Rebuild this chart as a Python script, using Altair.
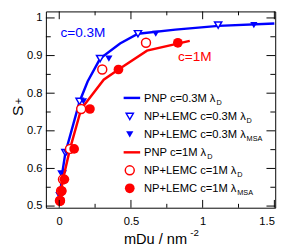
import altair as alt
import pandas as pd

# ---------------- data ----------------
blue_y = [0.527, 0.585, 0.642, 0.778, 0.892, 0.958, 0.981]
blue_x_D = [0.006, 0.020, 0.043, 0.142, 0.285, 0.549, 1.108]
blue_x_MSA = [0.007, 0.024, 0.052, 0.169, 0.346, 0.673, 1.357]
blue_pnp_x = [0.006, 0.020, 0.043, 0.142, 0.198, 0.285, 0.424, 0.549, 0.81, 1.11, 1.5]
blue_pnp_y = [0.527, 0.585, 0.642, 0.778, 0.831, 0.892, 0.932, 0.958, 0.969, 0.979, 0.985]

red_y = [0.514, 0.540, 0.571, 0.652, 0.758, 0.863, 0.934]
red_x_D = [0.005, 0.013, 0.026, 0.075, 0.153, 0.300, 0.605]
red_x_MSA = [0.007, 0.018, 0.036, 0.104, 0.214, 0.413, 0.827]
red_pnp_x = [0.005, 0.013, 0.026, 0.075, 0.153, 0.31, 0.413, 0.612, 0.91]
red_pnp_y = [0.514, 0.540, 0.571, 0.652, 0.758, 0.836, 0.863, 0.913, 0.939]

x_major = [0, 0.5, 1, 1.5]
x_minor = [0.25, 0.75, 1.25]
y_major = [0.5, 0.6, 0.7, 0.8, 0.9, 1.0]
y_minor = [0.55, 0.65, 0.75, 0.85, 0.95]

legend_main = ["PNP c=0.3M λ", "NP+LEMC c=0.3M λ", "NP+LEMC c=0.3M λ",
               "PNP c=1M λ", "NP+LEMC c=1M λ", "NP+LEMC c=1M λ"]
legend_sub = ["D", "D", "MSA", "D", "D", "MSA"]
legend_kind = ["line", "tri_open", "tri_fill", "line", "circ_open", "circ_fill"]
legend_color = ["#0000ff", "#0000ff", "#0000ff", "#ff0000", "#ff0000", "#ff0000"]

BLUE = "#0000ff"
RED = "#ff0000"
FONT = "Liberation Sans"

# ---------------- layout ----------------
W, H = 236, 202
xs = alt.Scale(domain=[-0.093, 1.506], nice=False, zero=False)
ys = alt.Scale(domain=[0.4956, 1.0173], nice=False, zero=False)
XAX = alt.Axis(values=x_major, format="~g", ticks=False, domain=False, grid=False,
               title=None, labelPadding=8)
YAX = alt.Axis(values=y_major, format="~g", ticks=False, domain=False, grid=False,
               title=None, labelPadding=4)

def df(x, y):
    return pd.DataFrame({"x": x, "y": y})

def X(f="x"):
    return alt.X(f + ":Q", scale=xs, axis=XAX)

def Y(f="y"):
    return alt.Y(f + ":Q", scale=ys, axis=YAX)

blue_line = alt.Chart(df(blue_pnp_x, blue_pnp_y)).mark_line(
    color=BLUE, strokeWidth=2.5).encode(x=X(), y=Y())
blue_open = alt.Chart(df(blue_x_D, blue_y)).mark_point(
    shape="triangle-down", filled=False, fill="white", fillOpacity=1, color=BLUE,
    strokeWidth=1.5, size=55, opacity=1).encode(x=X(), y=Y())
blue_fill = alt.Chart(df(blue_x_MSA, blue_y)).mark_point(
    shape="triangle-down", filled=True, color=BLUE, size=55, opacity=1).encode(x=X(), y=Y())

red_line = alt.Chart(df(red_pnp_x, red_pnp_y)).mark_line(
    color=RED, strokeWidth=2.5).encode(x=X(), y=Y())
red_open = alt.Chart(df(red_x_D, red_y)).mark_point(
    shape="circle", filled=False, fill="white", fillOpacity=1, color=RED,
    strokeWidth=1.5, size=85, opacity=1).encode(x=X(), y=Y())
red_fill = alt.Chart(df(red_x_MSA, red_y)).mark_point(
    shape="circle", filled=True, color=RED, size=100, opacity=1).encode(x=X(), y=Y())

# inward ticks on all four sides
def vt(vals):
    return pd.DataFrame({"v": vals})

tick_layers = []
for vals, L in ((x_major, 8), (x_minor, 4)):
    tick_layers.append(alt.Chart(vt(vals)).mark_rule(color="black", strokeWidth=1).encode(
        x=X("v"), y=alt.value(H), y2=alt.value(H - L)))
    tick_layers.append(alt.Chart(vt(vals)).mark_rule(color="black", strokeWidth=1).encode(
        x=X("v"), y=alt.value(0), y2=alt.value(L)))
for vals, L in ((y_major, 9), (y_minor, 5)):
    tick_layers.append(alt.Chart(vt(vals)).mark_rule(color="black", strokeWidth=1).encode(
        y=Y("v"), x=alt.value(0), x2=alt.value(L)))
    tick_layers.append(alt.Chart(vt(vals)).mark_rule(color="black", strokeWidth=1).encode(
        y=Y("v"), x=alt.value(W), x2=alt.value(W - L)))

# text helper
def txt(s, x, y, size, color="black", align="left", baseline="alphabetic", angle=0):
    kw = dict(text=s, font=FONT, fontSize=size, color=color, align=align, baseline=baseline)
    if angle:
        kw["angle"] = angle
    return alt.Chart(pd.DataFrame({"a": [0]})).mark_text(**kw).encode(
        x=alt.value(x), y=alt.value(y))

AW = {" ": 0.278, "+": 0.584, "=": 0.584, ".": 0.278, "A": 0.667, "C": 0.722, "D": 0.722,
      "E": 0.667, "L": 0.556, "M": 0.833, "N": 0.722, "P": 0.667, "S": 0.667, "c": 0.5,
      "λ": 0.52}
def tw(s, fs):
    return sum(AW.get(ch, 0.556) for ch in s) * fs

# legend
legend_layers = []
LFS = 11.5
row_y = [89, 108, 126.5, 145, 163.5, 182]
sym_x, tx0 = 86.3, 101
for i in range(len(legend_main)):
    yy = row_y[i]
    c = legend_color[i]
    k = legend_kind[i]
    one = alt.Chart(pd.DataFrame({"a": [0]}))
    if k == "line":
        legend_layers.append(one.mark_rule(color=c, strokeWidth=2.5).encode(
            x=alt.value(80), x2=alt.value(97), y=alt.value(yy)))
    elif k == "tri_open":
        legend_layers.append(one.mark_point(shape="triangle-down", filled=False, fill="white",
                                            fillOpacity=1, color=c, strokeWidth=1.5, size=55,
                                            opacity=1).encode(x=alt.value(sym_x), y=alt.value(yy)))
    elif k == "tri_fill":
        legend_layers.append(one.mark_point(shape="triangle-down", filled=True, color=c,
                                            size=55, opacity=1).encode(
            x=alt.value(sym_x), y=alt.value(yy)))
    elif k == "circ_open":
        legend_layers.append(one.mark_point(shape="circle", filled=False, fill="white",
                                            fillOpacity=1, color=c, strokeWidth=1.5, size=85,
                                            opacity=1).encode(x=alt.value(sym_x), y=alt.value(yy)))
    else:
        legend_layers.append(one.mark_point(shape="circle", filled=True, color=c, size=100,
                                            opacity=1).encode(x=alt.value(sym_x), y=alt.value(yy)))
    legend_layers.append(txt(legend_main[i], tx0, yy + 4, LFS))
    legend_layers.append(txt(legend_sub[i], tx0 + tw(legend_main[i], LFS) + 0.5, yy + 7, 7.5))

# annotations and titles
ann = [
    txt("c=0.3M", 15, 26, 14, color=BLUE),
    txt("c=1M", 136, 51, 14, color=RED),
    txt("mDu / nm", 80.3, 239, 15),
    txt("-2", 148.5, 231, 10),
    txt("S", -23.5, 107.5, 16, align="left", baseline="alphabetic", angle=270),
    txt("+", -24.5, 95.5, 11, align="left", baseline="alphabetic", angle=270),
]

chart = alt.layer(
    blue_line, blue_open, blue_fill, red_line, red_open, red_fill,
    *tick_layers, *legend_layers, *ann
).properties(
    width=W, height=H,
    autosize=alt.AutoSizeParams(type="none"),
    padding={"left": 39, "top": 0, "right": 8, "bottom": 41},
).configure_view(
    stroke="black", strokeWidth=1
).configure_axis(
    labelFont=FONT, labelFontSize=11.5, labelColor="black"
)

chart.save("out.html", embed_options={"renderer": "svg", "actions": False})
